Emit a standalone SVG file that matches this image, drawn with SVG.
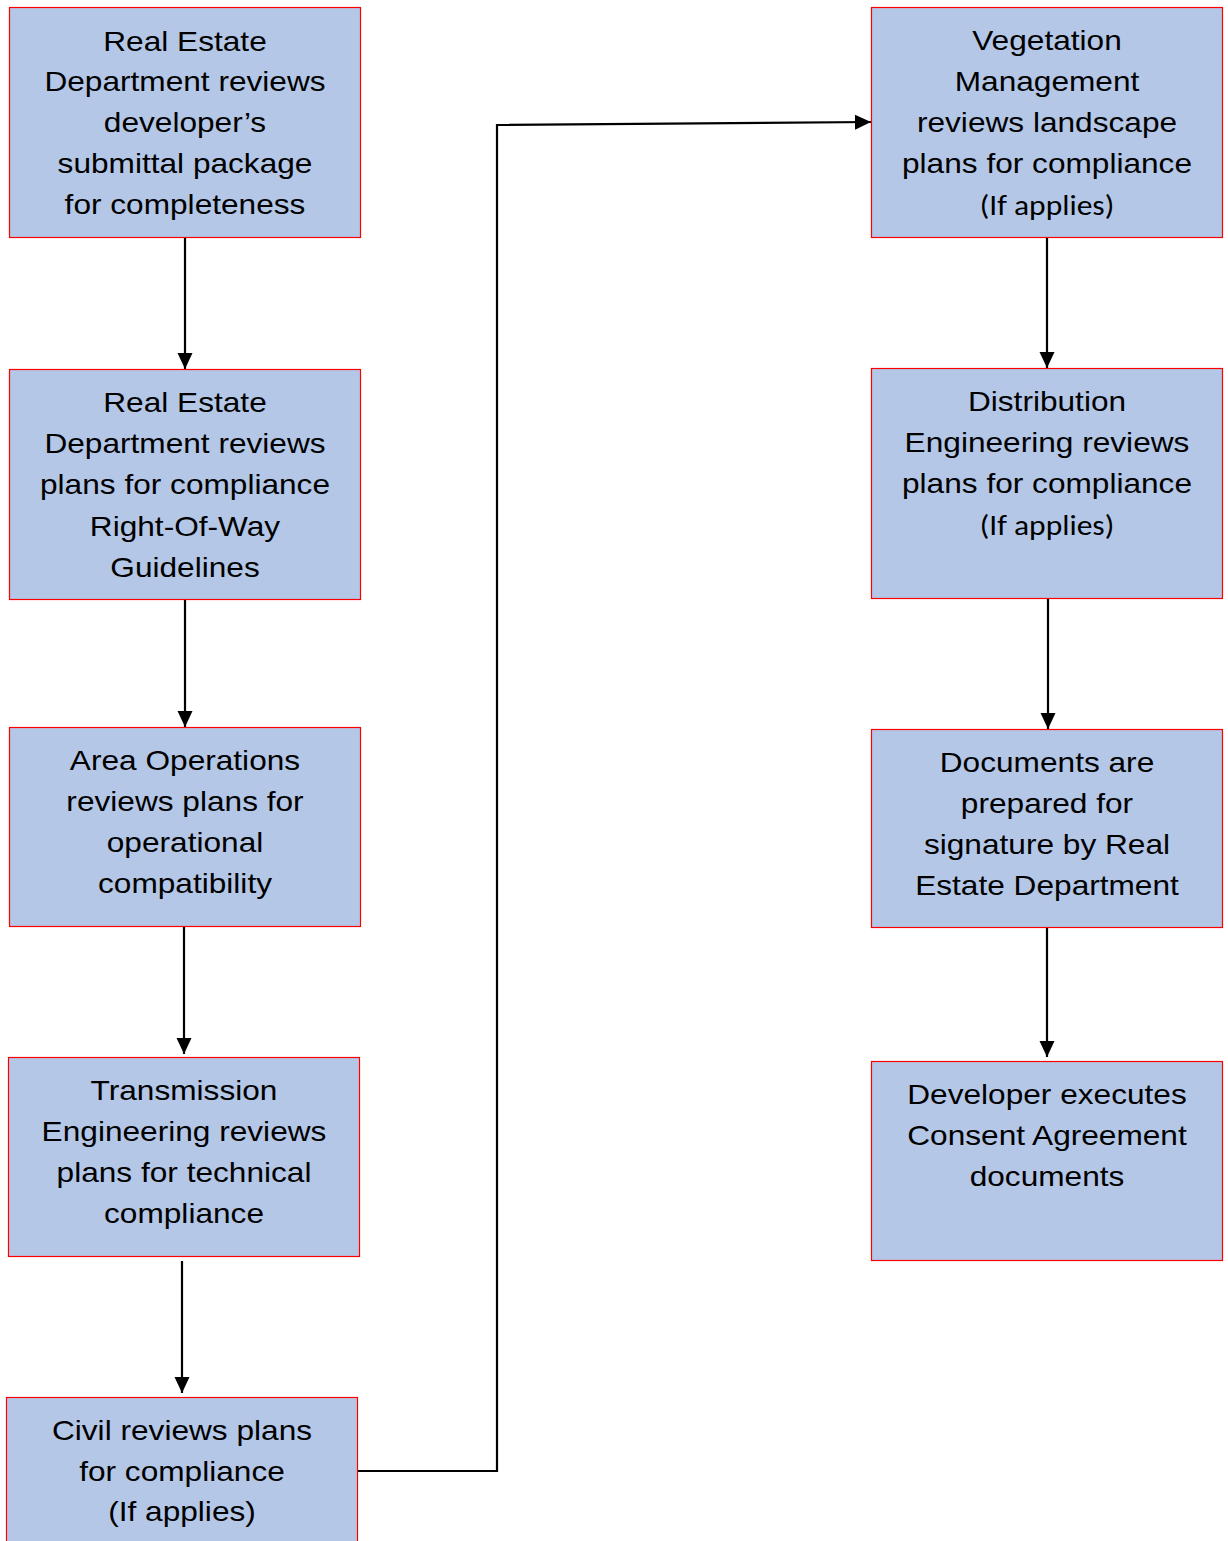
<svg xmlns="http://www.w3.org/2000/svg" width="1228" height="1541" viewBox="0 0 1228 1541">
<style>
.box{fill:#B4C7E7;stroke:#FF0000;stroke-width:1.2}
.t{font-family:"Liberation Sans",Arial,sans-serif;font-size:28px;fill:#000;text-anchor:middle}
.c{font-family:Carlito,Lato,"Open Sans",sans-serif;font-size:28px}
.conn{fill:none;stroke:#000;stroke-width:2.2}
</style>
<defs>
<marker id="ah" markerUnits="userSpaceOnUse" markerWidth="16" markerHeight="16" refX="16" refY="8" orient="auto" viewBox="0 0 16 16">
<path d="M0,0.5 L16,8 L0,15.5 z" fill="#000"/>
</marker>
</defs>
<rect width="1228" height="1541" fill="#fff"/>
<g id="connectors">
<path class="conn" marker-end="url(#ah)" d="M185,237 V369"/>
<path class="conn" marker-end="url(#ah)" d="M185,599 V727"/>
<path class="conn" marker-end="url(#ah)" d="M184,922 V1054"/>
<path class="conn" marker-end="url(#ah)" d="M182,1261 V1393"/>
<path class="conn" marker-end="url(#ah)" d="M358,1471 H497 V125 L871,122"/>
<path class="conn" marker-end="url(#ah)" d="M1047,237 V368"/>
<path class="conn" marker-end="url(#ah)" d="M1048,598 V729"/>
<path class="conn" marker-end="url(#ah)" d="M1047,925 V1057"/>
</g>
<g id="n1">
<rect class="box" x="9.5" y="7.5" width="351" height="230"/>
<text class="t" transform="translate(185 0) scale(1.13 1)"><tspan x="0" y="51">Real Estate</tspan><tspan x="0" y="91">Department reviews</tspan><tspan x="0" y="132">developer’s</tspan><tspan x="0" y="173">submittal package</tspan><tspan x="0" y="214">for completeness</tspan></text>
</g>
<g id="n2">
<rect class="box" x="9.5" y="369.5" width="351" height="230"/>
<text class="t" transform="translate(185 0) scale(1.13 1)"><tspan x="0" y="412">Real Estate</tspan><tspan x="0" y="453">Department reviews</tspan><tspan x="0" y="494">plans for compliance</tspan><tspan x="0" y="536">Right-Of-Way</tspan><tspan x="0" y="577">Guidelines</tspan></text>
</g>
<g id="n3">
<rect class="box" x="9.5" y="727.5" width="351" height="199"/>
<text class="t" transform="translate(185 0) scale(1.13 1)"><tspan x="0" y="770">Area Operations</tspan><tspan x="0" y="811">reviews plans for</tspan><tspan x="0" y="852">operational</tspan><tspan x="0" y="893">compatibility</tspan></text>
</g>
<g id="n4">
<rect class="box" x="8.5" y="1057.5" width="351" height="199"/>
<text class="t" transform="translate(184 0) scale(1.13 1)"><tspan x="0" y="1100">Transmission</tspan><tspan x="0" y="1141">Engineering reviews</tspan><tspan x="0" y="1182">plans for technical</tspan><tspan x="0" y="1223">compliance</tspan></text>
</g>
<g id="n5">
<rect class="box" x="6.5" y="1397.5" width="351" height="160"/>
<text class="t" transform="translate(182 0) scale(1.13 1)"><tspan x="0" y="1440">Civil reviews plans</tspan><tspan x="0" y="1481">for compliance</tspan><tspan x="0" y="1521">(If applies)</tspan></text>
</g>
<g id="n6">
<rect class="box" x="871.5" y="7.5" width="351" height="230"/>
<text class="t" transform="translate(1047 0) scale(1.13 1)"><tspan x="0" y="50">Vegetation</tspan><tspan x="0" y="91">Management</tspan><tspan x="0" y="132">reviews landscape</tspan><tspan x="0" y="173">plans for compliance</tspan><tspan class="c" x="0" y="215" textLength="119" lengthAdjust="spacingAndGlyphs">(If applies)</tspan></text>
</g>
<g id="n7">
<rect class="box" x="871.5" y="368.5" width="351" height="230"/>
<text class="t" transform="translate(1047 0) scale(1.13 1)"><tspan x="0" y="411">Distribution</tspan><tspan x="0" y="452">Engineering reviews</tspan><tspan x="0" y="493">plans for compliance</tspan><tspan class="c" x="0" y="535" textLength="119" lengthAdjust="spacingAndGlyphs">(If applies)</tspan></text>
</g>
<g id="n8">
<rect class="box" x="871.5" y="729.5" width="351" height="198"/>
<text class="t" transform="translate(1047 0) scale(1.13 1)"><tspan x="0" y="772">Documents are</tspan><tspan x="0" y="813">prepared for</tspan><tspan x="0" y="854">signature by Real</tspan><tspan x="0" y="895">Estate Department</tspan></text>
</g>
<g id="n9">
<rect class="box" x="871.5" y="1061.5" width="351" height="199"/>
<text class="t" transform="translate(1047 0) scale(1.13 1)"><tspan x="0" y="1104">Developer executes</tspan><tspan x="0" y="1145">Consent Agreement</tspan><tspan x="0" y="1186">documents</tspan></text>
</g>
</svg>
